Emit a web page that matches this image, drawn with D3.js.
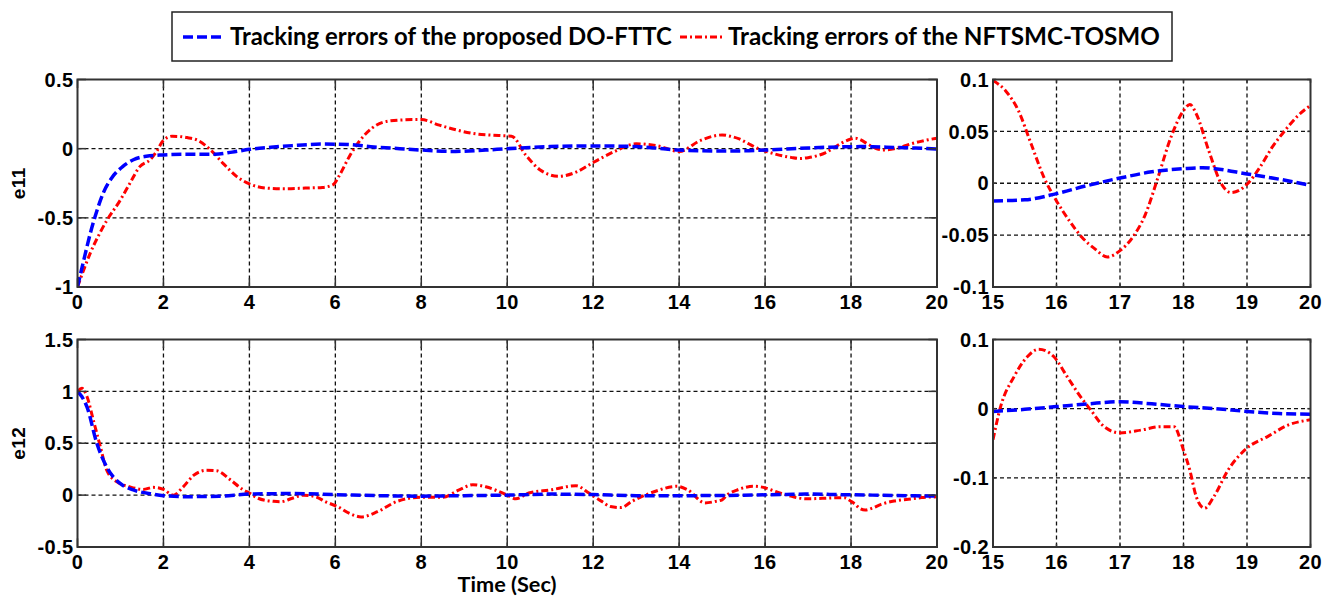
<!DOCTYPE html>
<html>
<head>
<meta charset="utf-8">
<script src="https://cdn.jsdelivr.net/npm/d3@7"></script>
<style>
body { margin: 0; background: #fff; }
.tick-label { font-family: "Liberation Sans", Arial, sans-serif; font-weight: bold; font-size: 20px; letter-spacing: 0.4px; fill: #000; }
.calibri { font-family: Lato, "Open Sans", sans-serif; font-weight: bold; fill: #000; }
</style>
</head>
<body>
<svg id="chart" width="1338" height="599"></svg>
<script>
// legend names
const seriesNames = ["Tracking errors of the proposed DO-FTTC", "Tracking errors of the NFTSMC-TOSMO"];

// tick labels
const xTicksFull = [0, 2, 4, 6, 8, 10, 12, 14, 16, 18, 20];
const xTicksZoom = [15, 16, 17, 18, 19, 20];
const yTicksE11 = [-1, -0.5, 0, 0.5];
const yTicksE12 = [-0.5, 0, 0.5, 1, 1.5];
const yTicksE11Zoom = [-0.1, -0.05, 0, 0.05, 0.1];
const yTicksE12Zoom = [-0.2, -0.1, 0, 0.1];

// e11, [time, error]
const e11DoFttc = [[0,-1],[0.15,-0.8],[0.3,-0.61],[0.45,-0.45],[0.6,-0.32],[0.8,-0.21],[1.05,-0.13],[1.3,-0.08],
  [1.6,-0.055],[2.0,-0.045],[2.5,-0.04],[3.2,-0.04],[3.6,-0.025],[4.0,-0.005],[4.5,0.01],[5.0,0.022],[5.7,0.033],
  [6.3,0.03],[6.9,0.012],[7.5,0.0],[8.0,-0.01],[8.8,-0.02],[9.5,-0.01],[10.0,0.0],[11.0,0.015],[12.0,0.02],
  [13.0,0.015],[14.0,-0.01],[15.0,-0.017],[15.5,-0.016],[16.0,-0.01],[16.5,-0.002],[17.0,0.005],[17.5,0.011],
  [18.0,0.014],[18.3,0.015],[18.5,0.014],[19.0,0.009],[19.5,0.004],[20.0,-0.002]];

const e11Nftsmc = [[0,-1],[0.14,-0.88],[0.29,-0.76],[0.52,-0.61],[0.68,-0.52],[1.0,-0.37],[1.22,-0.25],[1.45,-0.13],
  [1.69,-0.08],[1.84,-0.02],[2.0,0.06],[2.2,0.09],[2.55,0.08],[2.8,0.06],[3.1,-0.01],[3.4,-0.11],[3.7,-0.2],
  [4.0,-0.255],[4.4,-0.285],[4.8,-0.29],[5.3,-0.285],[5.7,-0.28],[5.95,-0.26],[6.1,-0.19],[6.32,-0.06],[6.55,0.05],
  [6.86,0.15],[7.25,0.2],[7.8,0.21],[8.0,0.21],[8.42,0.17],[9.2,0.11],[9.8,0.095],[10.1,0.09],[10.44,-0.05],
  [10.75,-0.15],[11.2,-0.2],[11.6,-0.17],[12.0,-0.1],[12.5,-0.02],[13.0,0.035],[13.5,0.02],[14.0,-0.02],[14.5,0.06],
  [15.0,0.099],[15.2,0.089],[15.4,0.07],[15.6,0.038],[15.8,0.006],[16.0,-0.017],[16.2,-0.036],[16.4,-0.052],
  [16.6,-0.063],[16.8,-0.071],[17.0,-0.065],[17.2,-0.052],[17.4,-0.03],[17.6,0.006],[17.8,0.044],[18.0,0.07],
  [18.1,0.076],[18.2,0.067],[18.4,0.031],[18.6,-0.001],[18.75,-0.009],[19.0,-0.001],[19.2,0.015],[19.4,0.035],
  [19.6,0.051],[19.8,0.065],[20.0,0.075]];

// e12, [time, error]
const e12DoFttc = [[0,1.0],[0.1,0.95],[0.22,0.85],[0.45,0.5],[0.68,0.27],[1.0,0.11],[1.3,0.05],[1.75,0.01],
  [2.0,-0.005],[2.5,-0.015],[3.3,-0.01],[4.0,0.01],[5.0,0.015],[6.0,0.005],[7.0,-0.005],[8.0,-0.01],[9.0,-0.005],
  [10.0,0.0],[11.0,0.01],[12.0,0.005],[13.0,-0.005],[14.0,-0.005],[15.0,-0.004],[15.5,-0.001],[16.0,0.003],
  [16.5,0.007],[17.0,0.01],[17.5,0.007],[18.0,0.003],[18.5,0.0],[19.0,-0.004],[19.5,-0.007],[20.0,-0.008]];

const e12Nftsmc = [[0,1.0],[0.1,1.03],[0.22,0.95],[0.37,0.72],[0.53,0.47],[0.68,0.24],[0.91,0.13],[1.22,0.08],
  [1.53,0.055],[1.76,0.075],[2.0,0.055],[2.23,0.0],[2.46,0.08],[2.7,0.19],[3.0,0.24],[3.24,0.235],[3.55,0.15],
  [3.86,0.05],[4.0,0.02],[4.2,-0.03],[4.56,-0.06],[4.72,-0.065],[5.0,-0.03],[5.26,0.0],[5.57,-0.02],[5.75,-0.06],
  [6.05,-0.11],[6.35,-0.18],[6.6,-0.21],[6.98,-0.16],[7.44,-0.06],[8.0,-0.02],[8.5,-0.02],[8.88,0.05],[9.2,0.1],
  [9.5,0.08],[10.0,0.0],[10.2,-0.035],[10.5,0.02],[11.0,0.05],[11.6,0.09],[11.9,0.02],[12.2,-0.06],[12.4,-0.11],
  [12.65,-0.12],[12.9,-0.06],[13.4,0.03],[13.95,0.085],[14.2,0.05],[14.6,-0.075],[14.85,-0.06],[15.0,-0.045],
  [15.12,0.003],[15.33,0.046],[15.54,0.075],[15.72,0.086],[15.96,0.075],[16.17,0.046],[16.38,0.017],[16.54,-0.002],
  [16.75,-0.026],[17.0,-0.035],[17.33,-0.031],[17.64,-0.026],[17.85,-0.026],[18.0,-0.06],[18.1,-0.089],
  [18.2,-0.127],[18.33,-0.144],[18.48,-0.127],[18.7,-0.089],[19.0,-0.057],[19.33,-0.04],[19.64,-0.024],[20.0,-0.016]];

const svg = d3.select('#chart');

const styles = {
  blue: {color: '#0000ff', dash: '10,4', width: 3.5},
  red: {color: '#ff0000', dash: '7,3,2,3', width: 3}
};

const panels = [
  {id: 'p1', x: [77.5, 937], y: [79.5, 287], xDom: [0, 20], yDom: [-1, 0.5], xTicks: xTicksFull, yTicks: yTicksE11,
   red: e11Nftsmc, blue: e11DoFttc, label: 'e11', tl: 8.6},
  {id: 'p2', x: [993, 1310.5], y: [79.5, 287], xDom: [15, 20], yDom: [-0.1, 0.1], xTicks: xTicksZoom, yTicks: yTicksE11Zoom,
   red: e11Nftsmc, blue: e11DoFttc, tl: 3.2},
  {id: 'p3', x: [77.5, 937], y: [339.5, 547], xDom: [0, 20], yDom: [-0.5, 1.5], xTicks: xTicksFull, yTicks: yTicksE12,
   red: e12Nftsmc, blue: e12DoFttc, label: 'e12', tl: 8.6},
  {id: 'p4', x: [993, 1310.5], y: [339.5, 547], xDom: [15, 20], yDom: [-0.2, 0.1], xTicks: xTicksZoom, yTicks: yTicksE12Zoom,
   red: e12Nftsmc, blue: e12DoFttc, tl: 3.2}
];

const defs = svg.append('defs');

panels.forEach(p => {
  const x = d3.scaleLinear().domain(p.xDom).range(p.x);
  const y = d3.scaleLinear().domain(p.yDom).range([p.y[1], p.y[0]]);
  const g = svg.append('g');

  defs.append('clipPath').attr('id', 'clip-' + p.id)
    .append('rect').attr('x', p.x[0]).attr('y', p.y[0])
    .attr('width', p.x[1] - p.x[0]).attr('height', p.y[1] - p.y[0]);

  // grid
  const grid = g.append('g').attr('stroke', '#111').attr('stroke-width', 1.3).attr('stroke-dasharray', '4,3');
  p.xTicks.slice(1, -1).forEach(t => {
    grid.append('line').attr('x1', x(t)).attr('x2', x(t)).attr('y1', p.y[0]).attr('y2', p.y[1]);
  });
  p.yTicks.slice(1, -1).forEach(t => {
    grid.append('line').attr('y1', y(t)).attr('y2', y(t)).attr('x1', p.x[0]).attr('x2', p.x[1]);
  });

  // data lines
  const line = d3.line().x(d => x(d[0])).y(d => y(d[1])).curve(d3.curveMonotoneX);
  const lines = g.append('g').attr('clip-path', 'url(#clip-' + p.id + ')');
  [['red', p.red], ['blue', p.blue]].forEach(([k, data]) => {
    const s = styles[k];
    const pts = data.filter((d, i) => {
      const prev = data[i - 1], next = data[i + 1];
      return (d[0] >= p.xDom[0] && d[0] <= p.xDom[1]) ||
        (next && next[0] > p.xDom[0] && d[0] < p.xDom[0]) ||
        (prev && prev[0] < p.xDom[1] && d[0] > p.xDom[1]);
    });
    lines.append('path').datum(pts).attr('d', line)
      .attr('fill', 'none').attr('stroke', s.color).attr('stroke-width', s.width)
      .attr('stroke-dasharray', s.dash).attr('stroke-linejoin', 'round');
  });

  // box
  g.append('rect').attr('x', p.x[0]).attr('y', p.y[0])
    .attr('width', p.x[1] - p.x[0]).attr('height', p.y[1] - p.y[0])
    .attr('fill', 'none').attr('stroke', '#333').attr('stroke-width', 2);

  // inward ticks on all sides
  const ticks = g.append('g').attr('stroke', '#333').attr('stroke-width', 1.5);
  p.xTicks.forEach(t => {
    ticks.append('line').attr('x1', x(t)).attr('x2', x(t)).attr('y1', p.y[1]).attr('y2', p.y[1] - p.tl);
    ticks.append('line').attr('x1', x(t)).attr('x2', x(t)).attr('y1', p.y[0]).attr('y2', p.y[0] + p.tl);
  });
  p.yTicks.forEach(t => {
    ticks.append('line').attr('y1', y(t)).attr('y2', y(t)).attr('x1', p.x[0]).attr('x2', p.x[0] + p.tl);
    ticks.append('line').attr('y1', y(t)).attr('y2', y(t)).attr('x1', p.x[1]).attr('x2', p.x[1] - p.tl);
  });

  // tick labels
  g.selectAll('.xl').data(p.xTicks).enter().append('text')
    .attr('class', 'tick-label').attr('text-anchor', 'middle')
    .attr('x', d => x(d)).attr('y', p.y[1] + 22).text(d => String(d));
  g.selectAll('.yl').data(p.yTicks).enter().append('text')
    .attr('class', 'tick-label').attr('text-anchor', 'end')
    .attr('x', p.x[0] - 4).attr('y', d => y(d)).attr('dy', '0.36em').text(d => String(d));

  if (p.label) {
    g.append('text').attr('class', 'tick-label').attr('text-anchor', 'middle')
      .attr('transform', 'translate(25,' + ((p.y[0] + p.y[1]) / 2) + ') rotate(-90)')
      .style('font-size', '19px').text(p.label);
  }
});

// fit a Calibri-like label to the width it takes in the figure
function fitText(sel, target) {
  const len = sel.node().getComputedTextLength();
  sel.style('font-size', (20 * target / len) + 'px');
}

// x axis title
const xt = svg.append('text').attr('class', 'calibri').attr('text-anchor', 'middle')
  .attr('x', 507).attr('y', 592).style('font-size', '20px').text('Time (Sec)');
fitText(xt, 99);

// legend
const legend = svg.append('g');
legend.append('rect').attr('x', 172).attr('y', 12).attr('width', 1000).attr('height', 49)
  .attr('fill', '#fff').attr('stroke', '#222').attr('stroke-width', 1.5);
const legendItems = [
  {name: seriesNames[0], style: styles.blue, x: 183, tx: 230, w: 442},
  {name: seriesNames[1], style: styles.red, x: 680, tx: 728, w: 432}
];
legendItems.forEach(it => {
  legend.append('line').attr('x1', it.x).attr('x2', it.x + 42).attr('y1', 37).attr('y2', 37)
    .attr('stroke', it.style.color).attr('stroke-width', it.style.width).attr('stroke-dasharray', it.style.dash);
  const t = legend.append('text').attr('class', 'calibri').attr('x', it.tx).attr('y', 37)
    .attr('dy', '0.35em').style('font-size', '20px').text(it.name);
  fitText(t, it.w);
});
</script>
</body>
</html>
